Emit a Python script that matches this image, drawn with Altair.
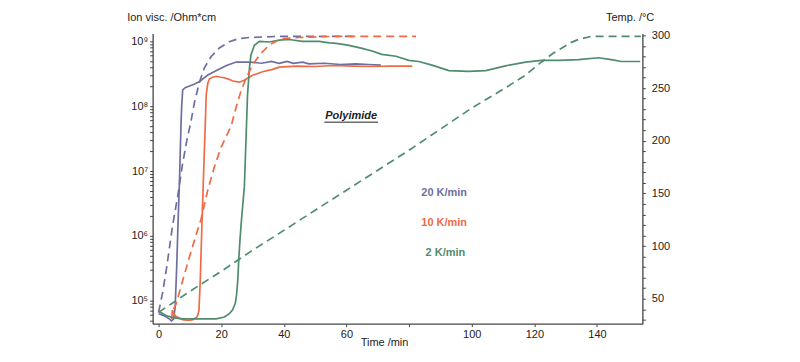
import altair as alt
import pandas as pd

FONT = "Liberation Sans, Arial, Helvetica, sans-serif"

rates = ["20 K/min", "10 K/min", "2 K/min"]
rate_colors = ["#6d6fa0", "#ef6a45", "#4f8c6e"]

# ---- ion viscosity (Ohm*cm), solid lines ----
time_visc_20 = [0, 1.3, 2.5, 3.5, 4.1, 4.8, 5.3, 5.8, 6.15, 6.7, 7.2, 7.4, 7.7, 8.6, 9.9, 11.5, 13.1,
                15.6, 18.5, 21.7, 24.8, 29, 33, 36, 38.5, 41, 43, 46, 48, 53, 58, 63, 67, 71]
visc_20 = [6.3e4, 6.0e4, 5.6e4, 5.2e4, 4.9e4, 5.2e4, 8e4, 3.5e5, 1.25e6, 7.9e6, 6.0e7, 1.05e8, 1.78e8,
           1.95e8, 2.05e8, 2.2e8, 2.4e8, 3.0e8, 3.55e8, 4.25e8, 4.8e8, 4.8e8, 4.6e8, 4.9e8, 4.6e8,
           4.9e8, 4.6e8, 4.8e8, 4.5e8, 4.6e8, 4.4e8, 4.5e8, 4.4e8, 4.3e8]

time_visc_10 = [4.2, 4.4, 4.9, 5.5, 6.5, 7.6, 9.0, 10.0, 11.0, 11.8, 12.4, 12.9, 13.3, 13.8, 14.4, 14.9,
                15.2, 15.7, 16.2, 17.2, 18.4, 19.8, 21.0, 22.5, 23.7, 25.8, 27.2, 28.4, 30.0, 33.2,
                36.4, 38.5, 44, 50, 56, 62, 68, 74, 81]
visc_10 = [5.2e4, 7.2e4, 6.3e4, 5.75e4, 5.4e4, 5.1e4, 5.0e4, 5.0e4, 5.1e4, 5.4e4, 5.75e4, 7.1e4, 2.0e5,
           1.26e6, 1.0e7, 5.0e7, 1.48e8, 2.24e8, 2.63e8, 2.8e8, 2.9e8, 2.8e8, 2.75e8, 2.6e8, 2.45e8,
           2.35e8, 2.5e8, 2.7e8, 3.0e8, 3.4e8, 3.7e8, 4.0e8, 4.15e8, 4.1e8, 4.25e8, 4.15e8, 4.1e8,
           4.15e8, 4.15e8]

time_visc_2 = [0, 2.4, 4.5, 7.7, 12, 18.4, 21, 22.6, 23.6, 24.5, 24.9, 25.3, 25.6, 26.0, 26.4, 27.4,
               28.0, 28.4, 29.0, 29.5, 30.6, 32.2, 35.4, 38.5, 41.7, 45.9, 51.3, 54.5, 56.7, 60.8,
               65.0, 68.2, 71.3, 75.8, 79.9, 83.1, 87.3, 92.7, 99.0, 104.5, 110.8, 117.2, 122.3,
               127.7, 134.1, 140.4, 144.6, 147.8, 153.8]
visc_2 = [6.9e4, 5.9e4, 5.5e4, 5.25e4, 5.25e4, 5.25e4, 5.6e4, 6.3e4, 7.2e4, 9.1e4, 1.23e5, 2.1e5,
          4.3e5, 8.7e5, 1.6e6, 5.8e6, 4.0e7, 1.48e8, 3.8e8, 6.2e8, 8.7e8, 1.0e9, 9.8e8, 1.05e9,
          1.07e9, 1.0e9, 1.0e9, 9.5e8, 9.3e8, 8.7e8, 7.8e8, 7.1e8, 6.3e8, 5.9e8, 5.1e8, 4.9e8,
          4.3e8, 3.55e8, 3.45e8, 3.55e8, 4.2e8, 4.8e8, 5.1e8, 5.1e8, 5.25e8, 5.6e8, 5.25e8,
          4.9e8, 4.9e8]

# ---- temperature (deg C), dashed lines ----
time_temp_20 = [0, 1.3, 2.5, 3.5, 4.5, 6.1, 7.6, 9.2, 10.2, 11.5, 13.1, 14.6, 16.8, 19.4, 22.6, 25.7,
                29, 38, 50, 62]
temp_20 = [37, 56, 78, 99, 120, 147, 177, 203, 216, 237, 256, 269, 280, 288, 294, 297, 298, 299, 299, 299]

time_temp_10 = [4.8, 5.6, 7.2, 9.3, 11.5, 13.6, 15.7, 17.8, 20.0, 23.2, 24.7, 26.3, 27.9, 30.0, 32.7,
                35.4, 38.0, 39.5, 45, 55, 65, 75, 82.2]
temp_10 = [40, 45, 62, 84, 106, 126, 153, 175, 194, 214, 231, 247, 259, 272, 283, 291, 295, 297, 298,
           299, 299, 299, 299]

time_temp_2 = [0, 10, 20, 29, 38.5, 50, 60, 70, 80, 90, 100, 110.7, 117, 122.4, 126, 128.8, 131.5,
               134, 138, 145, 154]
temp_2 = [37, 57, 76, 94, 112, 134, 153, 172, 191, 211, 231, 250, 262, 275, 283, 288, 293, 296, 299,
          299, 299]

# ---- axes ----
time_ticks = [0, 20, 40, 60, 80, 100, 120, 140]
time_hidden_labels = [80]          # covered by the axis title in the original
visc_major = [1e5, 1e6, 1e7, 1e8, 1e9]
visc_major_labels = ["10⁵", "10⁶", "10⁷", "10⁸", "10⁹"]
visc_minor = [m * 10 ** e for e in range(4, 9) for m in range(2, 10)]
temp_ticks = list(range(30, 301, 10))
temp_label_step = 50

# ---- annotations ----
ann_text = ["20 K/min", "10 K/min", "2 K/min"]
ann_time = [91.2, 91.2, 91.6]
ann_temp = [150.4, 121.5, 93.0]
title_text = ["Polyimide"]
title_time = [61.5]
title_temp = [223.3]
underline_time = [52.9]
underline_time2 = [70.1]
underline_temp = [217.6]

visc_rows = []
for r, ts, vs in zip(rates, [time_visc_20, time_visc_10, time_visc_2], [visc_20, visc_10, visc_2]):
    for t, v in zip(ts, vs):
        visc_rows.append({"time": t, "visc": v, "rate": r})
visc_df = pd.DataFrame(visc_rows)

temp_rows = []
for r, ts, vs in zip(rates, [time_temp_20, time_temp_10, time_temp_2], [temp_20, temp_10, temp_2]):
    for t, v in zip(ts, vs):
        temp_rows.append({"time": t, "temp": v, "rate": r})
temp_df = pd.DataFrame(temp_rows)

ann_df = pd.DataFrame({"text": ann_text, "time": ann_time, "temp": ann_temp, "rate": rates})
title_df = pd.DataFrame({"text": title_text, "time": title_time, "temp": title_temp})
ul_df = pd.DataFrame({"time": underline_time, "time2": underline_time2, "temp": underline_temp})

color_enc = alt.Color("rate:N", scale=alt.Scale(domain=rates, range=rate_colors), legend=None)

x_scale = alt.Scale(domain=[-1.9, 154.5], nice=False, zero=False)
hide_expr = " || ".join(f"datum.value == {v}" for v in time_hidden_labels)
x_axis = alt.Axis(values=time_ticks, title="Time /min", grid=False, tickSize=3,
                  labelPadding=2, titleX=232, titleY=19, titleAlign="center",
                  titleBaseline="middle", titleAnchor="start",
                  labelExpr=f"({hide_expr}) ? '' : datum.label")

label_map = " : ".join(
    f"datum.value == {v:g} ? '{l}'" for v, l in zip(visc_major, visc_major_labels)
) + " : ''"

visc_axis = alt.Axis(orient="left", values=sorted(visc_major + visc_minor), labelExpr=label_map,
                     title="Ion visc. /Ohm*cm", grid=False, tickSize=3, labelPadding=2,
                     titleAngle=0, titleX=-26, titleY=-16, titleAlign="left",
                     titleBaseline="middle", labelBound=False, labelOverlap=False,
                     labelFlush=False)

temp_axis = alt.Axis(orient="right", values=temp_ticks,
                     labelExpr=f"datum.value % {temp_label_step} == 0 ? datum.label : ''",
                     title="Temp. /°C", grid=False, tickSize=3, labelPadding=6,
                     titleAngle=0, titleX=-37, titleY=-16, titleAlign="left",
                     titleBaseline="middle", labelOverlap=False, labelFlush=False)

visc_scale = alt.Scale(type="log", domain=[4.43e4, 1.33e9], nice=False)
temp_scale = alt.Scale(domain=[26.3, 301.9], nice=False, zero=False)


def xenc():
    return alt.X("time:Q", scale=x_scale, axis=x_axis, title="Time /min")


def tenc():
    return alt.Y("temp:Q", scale=temp_scale, axis=temp_axis, title="Temp. /°C")


visc_lines = alt.Chart(visc_df).mark_line(strokeWidth=1.7, clip=True).encode(
    x=xenc(),
    y=alt.Y("visc:Q", scale=visc_scale, axis=visc_axis, title="Ion visc. /Ohm*cm"),
    color=color_enc,
)

temp_lines = alt.Chart(temp_df).mark_line(strokeWidth=1.7, strokeDash=[8, 5], clip=True).encode(
    x=xenc(),
    y=tenc(),
    color=color_enc,
)

ann = alt.Chart(ann_df).mark_text(font=FONT, fontSize=11, fontWeight="bold", align="center",
                                  baseline="middle").encode(
    x=xenc(),
    y=tenc(),
    text="text:N",
    color=color_enc,
)

title_mark = alt.Chart(title_df).mark_text(font=FONT, fontSize=11, fontWeight="bold",
                                           fontStyle="italic", align="center",
                                           baseline="middle", color="#222222").encode(
    x=xenc(),
    y=tenc(),
    text="text:N",
)

underline = alt.Chart(ul_df).mark_rule(color="#222222", strokeWidth=1).encode(
    x=xenc(),
    x2="time2:Q",
    y=tenc(),
)

right_layer = alt.layer(temp_lines, ann, title_mark, underline)

chart = alt.layer(visc_lines, right_layer).resolve_scale(y="independent").properties(
    width=491,
    height=291,
    autosize=alt.AutoSizeParams(type="none"),
    padding={"left": 145, "top": 25, "right": 150, "bottom": 30},
).configure_view(stroke=None).configure_axis(
    labelFont=FONT, titleFont=FONT, labelFontSize=11, titleFontSize=11,
    titleFontWeight="normal", labelColor="#222222", titleColor="#222222",
    domainColor="#444444", tickColor="#444444", domainWidth=1.3, tickWidth=1,
)

chart.save("out.html", embed_options={"renderer": "svg", "actions": False})
